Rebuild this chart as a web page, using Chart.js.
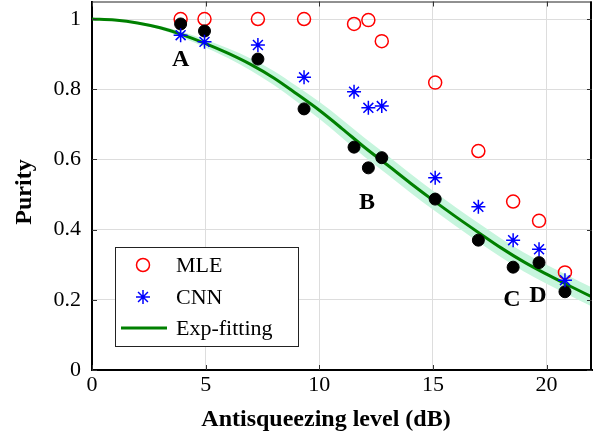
<!DOCTYPE html>
<html>
<head>
<meta charset="utf-8">
<script src="https://cdn.jsdelivr.net/npm/chart.js@4/dist/chart.umd.min.js"></script>
<style>
  body { margin: 0; background: #fff; }
  #wrap { width: 598px; height: 440px; }
</style>
</head>
<body>
<div id="wrap"><canvas id="purityChart" width="598" height="440"></canvas></div>
<script>
// antisqueezing levels (dB) of the measured states
const levels = [3.9, 4.95, 7.3, 9.33, 11.53, 12.16, 12.75, 15.1, 17.0, 18.53, 19.67, 20.81];
const mlePurity = [1.0, 1.0, 1.0, 1.0, 0.986, 0.997, 0.937, 0.819, 0.624, 0.48, 0.425, 0.278];
const cnnPurity = [0.954, 0.935, 0.926, 0.834, 0.793, 0.747, 0.752, 0.548, 0.465, 0.370, 0.344, 0.256];
const refPurity = [0.986, 0.966, 0.886, 0.744, 0.635, 0.576, 0.605, 0.487, 0.370, 0.293, 0.306, 0.223];

// exp-fitting curve, with its shaded band
const fitX = [0, 1, 2, 3, 4, 5, 6, 7, 8, 9, 10, 11, 12, 13, 14, 15, 16, 17, 18, 19, 20, 21, 22];
const fitY = [1.000, 0.997, 0.989, 0.975, 0.955, 0.930, 0.902, 0.870, 0.832, 0.787, 0.740, 0.688, 0.634, 0.584, 0.533, 0.484, 0.437, 0.392, 0.348, 0.308, 0.273, 0.240, 0.208];
const fitUpper = [1.000, 0.998, 0.992, 0.980, 0.963, 0.941, 0.916, 0.887, 0.852, 0.809, 0.764, 0.714, 0.661, 0.611, 0.560, 0.511, 0.464, 0.419, 0.375, 0.335, 0.300, 0.267, 0.235];
const fitLower = [1.000, 0.996, 0.986, 0.970, 0.947, 0.919, 0.888, 0.853, 0.812, 0.765, 0.716, 0.662, 0.607, 0.557, 0.506, 0.457, 0.410, 0.365, 0.321, 0.281, 0.246, 0.213, 0.181];

const xTicks = [0, 5, 10, 15, 20];
const yTicks = [0, 0.2, 0.4, 0.6, 0.8, 1];

const pointLabels = ["A", "B", "C", "D"];
const pointLabelX = [3.9, 12.1, 18.48, 19.62];
const pointLabelY = [0.883, 0.476, 0.2, 0.211];

const serif = "'Liberation Serif', 'DejaVu Serif', serif";

const toXY = (xs, ys) => xs.map((x, i) => ({ x: x, y: ys[i] }));

// pin the plot box to where it sits in the figure
const pinArea = {
    id: "pinArea",
    afterLayout(chart) {
        const a = chart.chartArea;
        const sx = chart.scales.x;
        const sy = chart.scales.y;
        a.top = 1.5;
        a.right = 592;
        a.width = a.right - a.left;
        a.height = a.bottom - a.top;
        sy.top = a.top;
        sy.height = sy.bottom - sy.top;
        sy.configure();
        sx.right = a.right;
        sx.width = sx.right - sx.left;
        sx.configure();
    }
};

const frame = {
    id: "frame",
    afterDraw(chart) {
        const ctx = chart.ctx;
        const a = chart.chartArea;
        const sx = chart.scales.x;
        const sy = chart.scales.y;
        ctx.save();

        // box top + right
        ctx.strokeStyle = "#222";
        ctx.lineWidth = 1;
        ctx.beginPath();
        ctx.moveTo(a.left, a.top + 0.5);
        ctx.lineTo(a.right, a.top + 0.5);
        ctx.stroke();
        ctx.lineWidth = 2;
        ctx.strokeStyle = "#000";
        ctx.beginPath();
        ctx.moveTo(a.right - 1, a.top);
        ctx.lineTo(a.right - 1, a.bottom);
        ctx.stroke();

        // inward ticks
        ctx.lineWidth = 1;
        ctx.strokeStyle = "#333";
        ctx.beginPath();
        xTicks.forEach(v => {
            const px = Math.round(sx.getPixelForValue(v)) + 0.5;
            ctx.moveTo(px, a.bottom); ctx.lineTo(px, a.bottom - 5);
            ctx.moveTo(px, a.top); ctx.lineTo(px, a.top + 5);
        });
        yTicks.forEach(v => {
            const py = Math.round(sy.getPixelForValue(v)) + 0.5;
            ctx.moveTo(a.left, py); ctx.lineTo(a.left + 5, py);
            ctx.moveTo(a.right, py); ctx.lineTo(a.right - 5, py);
        });
        ctx.stroke();

        // A B C D
        ctx.fillStyle = "#000";
        ctx.font = "bold 24px " + serif;
        ctx.textAlign = "center";
        ctx.textBaseline = "middle";
        pointLabels.forEach((t, i) => {
            ctx.fillText(t, sx.getPixelForValue(pointLabelX[i]), sy.getPixelForValue(pointLabelY[i]));
        });

        // axis titles
        ctx.font = "bold 24px " + serif;
        ctx.fillText("Antisqueezing level (dB)", 326, 420);
        ctx.save();
        ctx.translate(25, 192);
        ctx.rotate(-Math.PI / 2);
        ctx.fillText("Purity", 0, 0);
        ctx.restore();

        // legend
        ctx.fillStyle = "#fff";
        ctx.fillRect(115.5, 247.5, 183, 99);
        ctx.strokeStyle = "#222";
        ctx.lineWidth = 1;
        ctx.strokeRect(115.5, 247.5, 183, 99);

        ctx.strokeStyle = "#ff0000";
        ctx.lineWidth = 1.5;
        ctx.beginPath();
        ctx.arc(143, 265, 6.5, 0, Math.PI * 2);
        ctx.stroke();

        ctx.strokeStyle = "#0000ff";
        ctx.beginPath();
        for (let k = 0; k < 4; k++) {
            const ang = k * Math.PI / 4;
            ctx.moveTo(143 - 7 * Math.cos(ang), 297 - 7 * Math.sin(ang));
            ctx.lineTo(143 + 7 * Math.cos(ang), 297 + 7 * Math.sin(ang));
        }
        ctx.stroke();

        ctx.strokeStyle = "#008000";
        ctx.lineWidth = 3;
        ctx.beginPath();
        ctx.moveTo(121, 328);
        ctx.lineTo(167, 328);
        ctx.stroke();

        ctx.fillStyle = "#000";
        ctx.font = "22px " + serif;
        ctx.textAlign = "left";
        ctx.fillText("MLE", 176, 266);
        ctx.fillText("CNN", 176, 298);
        ctx.fillText("Exp-fitting", 176, 329);

        ctx.restore();
    }
};

new Chart(document.getElementById("purityChart"), {
    type: "scatter",
    data: {
        datasets: [
            {
                label: "band-upper",
                data: toXY(fitX, fitUpper),
                showLine: true,
                borderWidth: 0,
                pointRadius: 0,
                fill: false,
                cubicInterpolationMode: "monotone",
                order: 10
            },
            {
                label: "band-lower",
                data: toXY(fitX, fitLower),
                showLine: true,
                borderWidth: 0,
                pointRadius: 0,
                fill: "-1",
                backgroundColor: "#c6f5dd",
                cubicInterpolationMode: "monotone",
                order: 9
            },
            {
                label: "Exp-fitting",
                data: toXY(fitX, fitY),
                showLine: true,
                borderColor: "#008000",
                borderWidth: 3,
                pointRadius: 0,
                cubicInterpolationMode: "monotone",
                order: 8
            },
            {
                label: "MLE",
                data: toXY(levels, mlePurity),
                pointStyle: "circle",
                pointRadius: 6.5,
                borderColor: "#ff0000",
                backgroundColor: "rgba(0,0,0,0)",
                borderWidth: 1.5,
                order: 7
            },
            {
                label: "Reference",
                data: toXY(levels, refPurity),
                pointStyle: "circle",
                pointRadius: 6,
                borderColor: "#000",
                backgroundColor: "#000",
                borderWidth: 1,
                order: 6
            },
            {
                label: "CNN",
                data: toXY(levels, cnnPurity),
                pointStyle: "star",
                pointRadius: 7,
                borderColor: "#0000ff",
                borderWidth: 1.5,
                order: 5
            }
        ]
    },
    options: {
        responsive: false,
        animation: false,
        layout: { padding: 0 },
        plugins: {
            legend: { display: false },
            tooltip: { enabled: false }
        },
        scales: {
            x: {
                type: "linear",
                min: 0,
                max: 22,
                afterBuildTicks: axis => { axis.ticks = xTicks.map(v => ({ value: v })); },
                afterFit: axis => { axis.height = 70; },
                ticks: {
                    color: "#000",
                    font: { family: serif, size: 22 },
                    padding: 2,
                    callback: v => String(v)
                },
                grid: { color: "#dddddd", drawTicks: false },
                border: { color: "#000", width: 2 }
            },
            y: {
                type: "linear",
                min: 0,
                max: 1.05,
                afterBuildTicks: axis => { axis.ticks = yTicks.map(v => ({ value: v })); },
                afterFit: axis => { axis.width = 92; },
                ticks: {
                    color: "#000",
                    font: { family: serif, size: 22 },
                    padding: 11,
                    callback: v => String(v)
                },
                grid: { color: "#dddddd", drawTicks: false },
                border: { color: "#000", width: 2 }
            }
        }
    },
    plugins: [pinArea, frame]
});
</script>
</body>
</html>
